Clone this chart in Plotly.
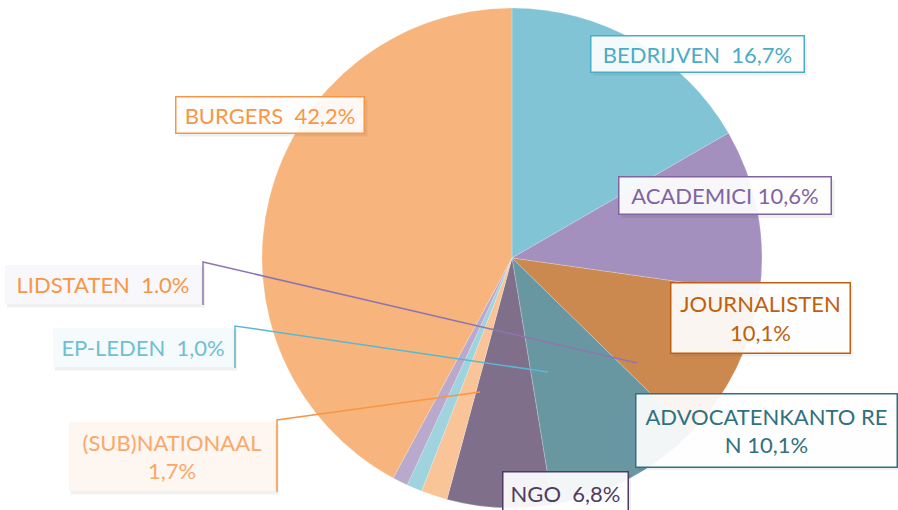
import plotly.graph_objects as go

W, H = 898, 510

labels = ['BEDRIJVEN', 'ACADEMICI', 'JOURNALISTEN', 'ADVOCATENKANTOREN', 'NGO',
          '(SUB)NATIONAAL', 'EP-LEDEN', 'LIDSTATEN', 'BURGERS']
values = [16.7, 10.6, 10.1, 10.1, 6.8, 1.7, 1.0, 1.0, 42.2]
label_text = ['BEDRIJVEN  16,7%', 'ACADEMICI 10,6%', 'JOURNALISTEN<br>10,1%',
              'ADVOCATENKANTO RE<br>N 10,1%', 'NGO  6,8%', '(SUB)NATIONAAL<br>1,7%',
              'EP-LEDEN  1,0%', 'LIDSTATEN  1.0%', 'BURGERS  42,2%']
slice_colors = ['#80C4D5', '#A390BF', '#CB8950', '#6897A2', '#7F6F8B',
                '#F9C497', '#9FD3DE', '#B9A9CC', '#F7B57D']
text_colors = ['#4BACC6', '#8064A2', '#C0600F', '#31707E', '#4F3B62',
               '#F9A86A', '#6FC0D3', '#F79646', '#F79646']


def px(x):
    return x / W


def py(y):
    return 1 - y / H


fig = go.Figure(go.Pie(
    labels=labels,
    values=values,
    sort=False,
    direction='clockwise',
    rotation=0,
    textinfo='none',
    hoverinfo='label+percent',
    marker=dict(colors=slice_colors, line=dict(color='rgba(255,255,255,0.4)', width=0.5)),
    domain=dict(x=[px(262), px(762)], y=[py(508), py(8)]),
    showlegend=False,
))

# label boxes: (centre x, centre y, width, height, border colour, background)
boxes = [
    (697, 54, 214, 37, '#4BACC6', 'rgba(255,255,255,0.92)'),
    (725, 196, 213, 38, '#8064A2', 'rgba(255,255,255,0.92)'),
    (760, 318, 180, 71, '#C0600F', 'rgba(255,255,255,0.92)'),
    (766, 430, 262, 74, '#31707E', 'rgba(255,255,255,0.92)'),
    (565, 493, 126, 44, '#4F3B62', 'rgba(255,255,255,0.92)'),
    (172, 456, 208, 71, None, 'rgba(253,246,240,0.95)'),
    (143, 347, 182, 41, None, 'rgba(244,250,252,0.95)'),
    (103, 284, 198, 41, None, 'rgba(248,247,251,0.95)'),
    (270, 115, 189, 37, '#F79646', 'rgba(255,255,255,0.92)'),
]

for txt, col, (cx, cy, bw, bh, bc, bg) in zip(label_text, text_colors, boxes):
    # soft drop shadow
    fig.add_shape(type='rect', xref='paper', yref='paper',
                  x0=px(cx - bw / 2 + 3), x1=px(cx + bw / 2 + 3),
                  y0=py(cy + bh / 2 + 3), y1=py(cy - bh / 2 + 3),
                  line=dict(width=0), fillcolor='rgba(0,0,0,0.06)', layer='above')
    fig.add_annotation(
        x=px(cx), y=py(cy), xref='paper', yref='paper',
        xanchor='center', yanchor='middle',
        text=txt, showarrow=False, align='center',
        width=bw - 2, height=bh - 2,
        font=dict(family='Lato', size=22, color=col),
        bgcolor=bg,
        bordercolor=bc if bc else 'rgba(0,0,0,0)',
        borderwidth=1.5 if bc else 0, borderpad=0,
    )

# leader lines for the small slices
leaders = [
    ([203, 203, 637], [305, 262, 363], '#8E75B0'),
    ([235, 235, 548], [368, 326, 372], '#5BB7CF'),
    ([277, 277, 480], [492, 420, 392], '#F79646'),
]
for xs, ys, c in leaders:
    path = 'M {} {} L {} {} L {} {}'.format(px(xs[0]), py(ys[0]), px(xs[1]), py(ys[1]),
                                              px(xs[2]), py(ys[2]))
    fig.add_shape(type='path', xref='paper', yref='paper', path=path,
                  line=dict(color=c, width=1.5), layer='above')

fig.update_layout(
    width=W, height=H,
    margin=dict(l=0, r=0, t=0, b=0),
    paper_bgcolor='white',
    plot_bgcolor='white',
)

fig.write_html('out.html', config={'displayModeBar': False},
               post_script="document.body.style.margin='0';")
